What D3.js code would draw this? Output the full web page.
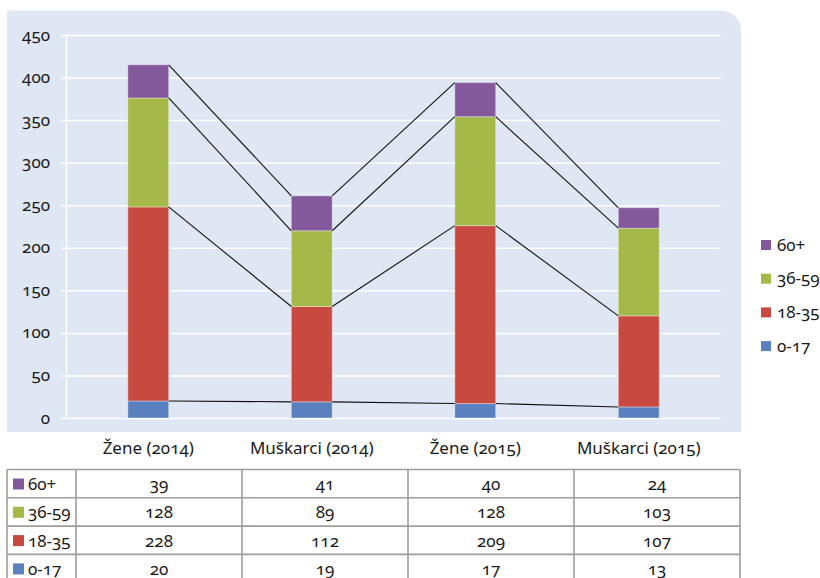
<!DOCTYPE html>
<html>
<head>
<meta charset="utf-8">
<script src="https://cdn.jsdelivr.net/npm/d3@7"></script>
<style>
  html, body { margin: 0; padding: 0; background: #ffffff; }
  svg text { font-family: "Noto Sans", "Open Sans", sans-serif; font-variant-numeric: oldstyle-nums; fill: #1a1a1a; }
</style>
</head>
<body>
<svg id="chart" width="820" height="578"></svg>
<script>
// Groups shown on the x axis
const categories = ["Žene (2014)", "Muškarci (2014)", "Žene (2015)", "Muškarci (2015)"];
// Age bands, bottom of the stack first
const ageGroups = ["0-17", "18-35", "36-59", "60+"];
// Counts per age band, one value per category
const values017 = [20, 19, 17, 13];
const values1835 = [228, 112, 209, 107];
const values3659 = [128, 89, 128, 103];
const values60 = [39, 41, 40, 24];
const yTicks = [0, 50, 100, 150, 200, 250, 300, 350, 400, 450];
const colors = ["#5b80bf", "#c8493f", "#a5b848", "#84599b"];

const seriesValues = [values017, values1835, values3659, values60];
const rows = categories.map((c, i) => {
  const r = { category: c };
  ageGroups.forEach((g, k) => { r[g] = seriesValues[k][i]; });
  return r;
});
const stacked = d3.stack().keys(ageGroups)(rows);

const svg = d3.select("#chart");
const fontSize = 17;

// Plot panel with a rounded top-right corner
const panel = { x0: 7, y0: 10.5, x1: 741, y1: 432, r: 20 };
svg.append("path")
  .attr("d", `M${panel.x0},${panel.y0} H${panel.x1 - panel.r} A${panel.r},${panel.r} 0 0 1 ${panel.x1},${panel.y0 + panel.r} V${panel.y1} H${panel.x0} Z`)
  .attr("fill", "#dee7f3");

const x = d3.scaleBand().domain(categories).range([66.5, 720.5]).paddingInner(0.75).paddingOuter(0.375);
const y = d3.scaleLinear().domain([0, 450]).range([418, 35]);

// Horizontal grid and tick labels
const yAxis = d3.axisLeft(y).tickValues(yTicks).tickSize(-(720.5 - 61)).tickPadding(11).tickFormat(d3.format("d"));
const gy = svg.append("g").attr("transform", "translate(61,0)").call(yAxis);
gy.select(".domain").remove();
gy.selectAll(".tick line").attr("stroke", "#ffffff").attr("stroke-width", 1.5);
gy.selectAll(".tick text").attr("font-size", fontSize).attr("fill", "#1a1a1a").attr("dy", "0.3em");
// Vertical axis line
svg.append("line").attr("x1", 66.5).attr("x2", 66.5).attr("y1", y(450)).attr("y2", y(0))
  .attr("stroke", "#ffffff").attr("stroke-width", 1.5);

// Stacked bars
const layers = svg.append("g").selectAll("g").data(stacked).join("g")
  .attr("fill", (d, i) => colors[i]);
layers.selectAll("rect").data(d => d).join("rect")
  .attr("x", d => x(d.data.category))
  .attr("width", x.bandwidth())
  .attr("y", d => y(d[1]))
  .attr("height", d => y(d[0]) - y(d[1]))
  .attr("stroke", "rgba(255,255,255,0.35)")
  .attr("stroke-width", 1);

// Series lines joining the top of each segment between neighbouring bars
const seriesLines = svg.append("g").attr("stroke", "#111").attr("stroke-width", 1.1).attr("fill", "none");
stacked.forEach(layer => {
  for (let i = 0; i < layer.length - 1; i++) {
    seriesLines.append("line")
      .attr("x1", x(categories[i]) + x.bandwidth())
      .attr("y1", y(layer[i][1]))
      .attr("x2", x(categories[i + 1]))
      .attr("y2", y(layer[i + 1][1]));
  }
});

// Category labels
svg.append("g").selectAll("text").data(categories).join("text")
  .attr("x", d => x(d) + x.bandwidth() / 2)
  .attr("y", 454)
  .attr("text-anchor", "middle")
  .attr("font-size", fontSize)
  .text(d => d);

// Legend, top series first
const legendOrder = ageGroups.map((g, i) => ({ g, c: colors[i] })).reverse();
const legend = svg.append("g").selectAll("g").data(legendOrder).join("g")
  .attr("transform", (d, i) => `translate(761,${240 + i * 33.7})`);
legend.append("rect").attr("width", 10).attr("height", 10).attr("fill", d => d.c);
legend.append("text").attr("x", 16).attr("y", 10.5).attr("font-size", fontSize).text(d => d.g);

// Data table under the chart
const colEdges = [7, 76, 242, 408, 574, 740];
const rowTop = 469.5, rowH = 28.3;
const table = svg.append("g");
legendOrder.forEach((d, r) => {
  const ty = rowTop + r * rowH;
  const k = ageGroups.indexOf(d.g);
  table.append("rect").attr("x", 13).attr("y", ty + 9).attr("width", 11).attr("height", 11).attr("fill", d.c);
  table.append("text").attr("x", 28).attr("y", ty + 20.5).attr("font-size", fontSize).text(d.g);
  seriesValues[k].forEach((v, i) => {
    table.append("text")
      .attr("x", (colEdges[i + 1] + colEdges[i + 2]) / 2)
      .attr("y", ty + 20.5)
      .attr("text-anchor", "middle")
      .attr("font-size", fontSize)
      .text(v);
  });
});
const grid = table.append("g").attr("stroke", "#a39c9c").attr("stroke-width", 1.6);
for (let r = 0; r <= 4; r++) {
  grid.append("line").attr("x1", colEdges[0]).attr("x2", colEdges[5])
    .attr("y1", rowTop + r * rowH).attr("y2", rowTop + r * rowH);
}
colEdges.forEach(cx => {
  grid.append("line").attr("x1", cx).attr("x2", cx).attr("y1", rowTop).attr("y2", rowTop + 4 * rowH);
});
</script>
</body>
</html>
